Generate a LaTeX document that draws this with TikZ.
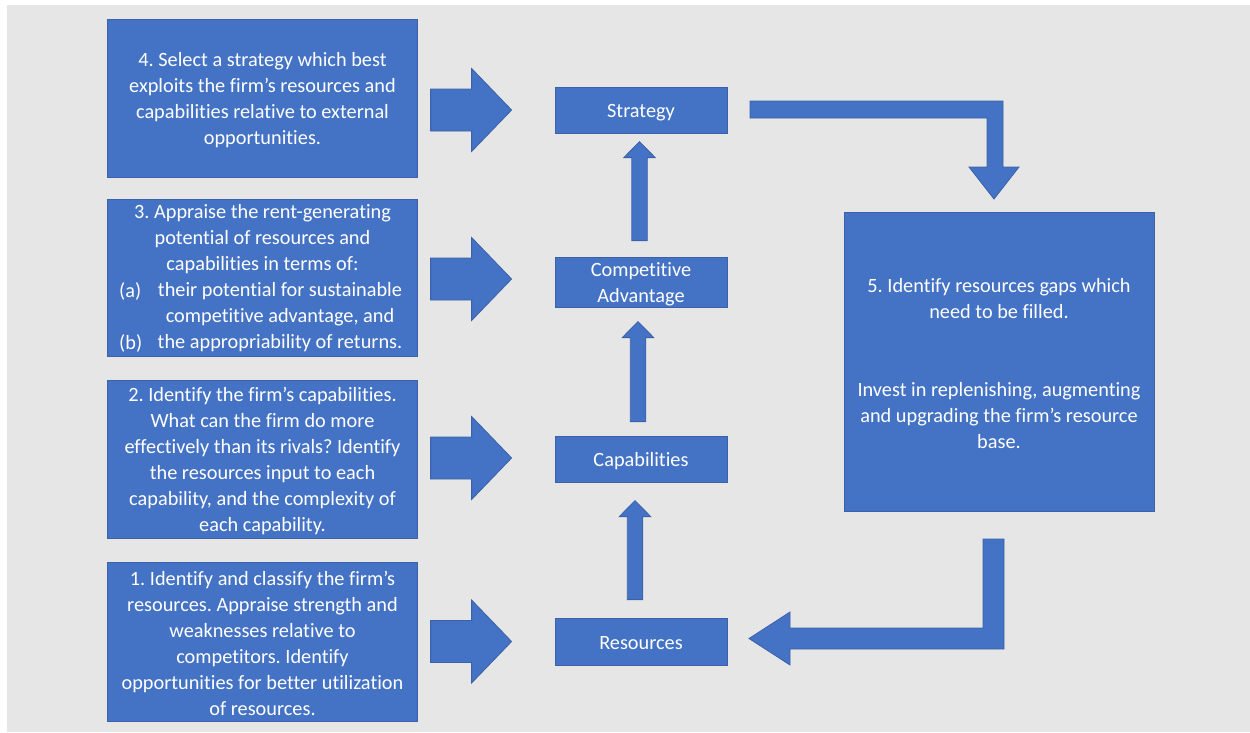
\documentclass[tikz,border=0pt]{standalone}
\usepackage{fontspec}
\setmainfont{Carlito}[Ligatures=NoCommon]
\usetikzlibrary{calc}
\definecolor{bg}{HTML}{E7E6E6}
\definecolor{fillblue}{HTML}{4472C4}
\definecolor{edgeblue}{HTML}{3A62A8}
\frenchspacing

\begin{document}
\begin{tikzpicture}[x=1pt,y=-1pt,
  bodyfont/.style={font=\fontsize{20.3}{26}\selectfont},
  box/.style={draw=edgeblue, fill=fillblue, line width=0.8pt, inner sep=0pt},
  txt/.style={text=white, inner sep=0pt, align=center, bodyfont},
  blk/.style={draw=edgeblue, fill=fillblue, line width=0.8pt, line join=miter},
  % wide block arrow pointing right, anchored at the tail centre
  rblock/.pic={\path[blk] (0,-21) -- (41,-21) -- (41,-41.5) -- (81,0)
      -- (41,41.5) -- (41,21) -- (0,21) -- cycle;},
  % slim block arrow pointing up, anchored at the tail centre, #1 = length
  upblock/.pic={\path[blk] (-7.75,0) -- (7.75,0) -- (7.75,-#1+16)
      -- (15.75,-#1+16) -- (0,-#1) -- (-15.75,-#1+16) -- (-7.75,-#1+16) -- cycle;},
]
% page and backdrop
\fill[white] (0,0) rectangle (1250,732);
\fill[bg] (7,5) rectangle (1250,732);
\useasboundingbox (0,0) rectangle (1250,732);

% step boxes on the left
\node[box, minimum width=310pt, minimum height=158pt] (b4) at (262.5,98) {};
\node[box, minimum width=310pt, minimum height=157pt] (b3) at (262.5,277.5) {};
\node[box, minimum width=310pt, minimum height=158pt] (b2) at (262.5,459) {};
\node[box, minimum width=310pt, minimum height=159pt] (b1) at (262.5,641.5) {};

\node[txt] (b4t) at ([yshift=-2.5pt]b4.center)
  {4. Select a strategy which best\\exploits the firm’s resources and\\capabilities relative to external\\opportunities.};
\node[txt] (b3head) at (262.5,239.5) {3. Appraise the rent-generating\\potential of resources and\\capabilities in terms of:};
\node[txt, anchor=west] (b3a) at (119,291.5) {(a)};
\node[txt] (b3atext) at (280,304.5) {their potential for sustainable\\competitive advantage, and};
\node[txt, anchor=west] (b3b) at (119,343.5) {(b)};
\node[txt] (b3btext) at (280,343.5) {the appropriability of returns.};
\node[txt] (b2t) at ([yshift=-2pt]b2.center)
  {2. Identify the firm’s capabilities.\\What can the firm do more\\effectively than its rivals? Identify\\the resources input to each\\capability, and the complexity of\\each capability.};
\node[txt] (b1t) at ([yshift=-1.5pt]b1.center)
  {1. Identify and classify the firm’s\\resources. Appraise strength and\\weaknesses relative to\\competitors. Identify\\opportunities for better utilization\\of resources.};

% central column
\node[box, minimum width=172pt, minimum height=46pt] (strat) at (641,110) {};
\node[box, minimum width=172pt, minimum height=50pt] (ca) at (641,282) {};
\node[box, minimum width=172pt, minimum height=46pt] (cap) at (641,459) {};
\node[box, minimum width=172pt, minimum height=47pt] (res) at (641,641.5) {};
\node[txt] (stratt) at ([yshift=-2.5pt]strat.center) {Strategy};
\node[txt] (cat) at ([yshift=-2.5pt]ca.center) {Competitive\\Advantage};
\node[txt] (capt) at ([yshift=-2.5pt]cap.center) {Capabilities};
\node[txt] (rest) at ([yshift=-2pt]res.center) {Resources};

% step 5 on the right
\node[box, minimum width=310pt, minimum height=299pt] (b5) at (999,361.5) {};
\node[txt] (b5t) at ([yshift=-2pt]b5.center)
  {5. Identify resources gaps which\\need to be filled.\\[52pt]Invest in replenishing, augmenting\\and upgrading the firm’s resource\\base.};

% block arrows from the steps into the column
\pic at ($(strat.west)+(-124,0)$) {rblock};
\pic at ($(ca.west)+(-124,-3)$) {rblock};
\pic at ($(cap.west)+(-124,-1)$) {rblock};
\pic at ($(res.west)+(-124,0)$) {rblock};

% slim arrows up the column
\pic at ($(res.north)+(-6,-18)$) {upblock=99};
\pic at ($(cap.north)+(-3,-14)$) {upblock=100};
\pic at ($(ca.north)+(-1.5,-16)$) {upblock=99};

% bent arrow from Strategy down to step 5
\path[blk] (750,101) -- (1003,101) -- (1003,167) -- (1019,167) -- (994,199)
  -- (969,167) -- (987,167) -- (987,118) -- (750,118) -- cycle;
% bent arrow from step 5 back to Resources
\path[blk] (983,539) -- (1004,539) -- (1004,649) -- (790,649) -- (790,665)
  -- (749,638.5) -- (790,612) -- (790,628) -- (983,628) -- cycle;
\end{tikzpicture}
\end{document}
